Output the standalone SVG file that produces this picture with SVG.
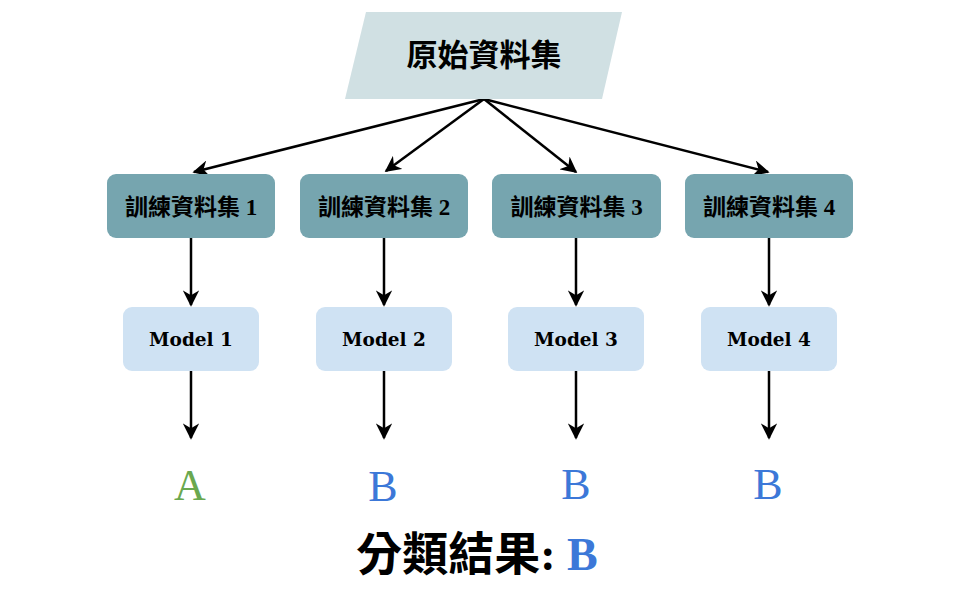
<svg xmlns="http://www.w3.org/2000/svg" width="960" height="600" viewBox="0 0 960 600">
<defs>
<style>
.src{fill:#d0e0e3}
.train{fill:#76a5af}
.model{fill:#cfe2f3}
.cjk{font-family:"Liberation Serif","Noto Sans CJK TC",serif;font-weight:bold;fill:#000;text-anchor:middle}
.mt{font-family:"DejaVu Serif","Liberation Serif",serif;font-weight:bold;font-size:18.5px;fill:#000;text-anchor:middle}
.res{font-family:"Liberation Serif",serif;font-size:44px;text-anchor:middle}
.edge{stroke:#000;stroke-width:2.5;fill:none}
</style>
<marker id="ah" viewBox="0 0 10 10" refX="9" refY="5" markerWidth="6.5" markerHeight="6.5" orient="auto" markerUnits="strokeWidth">
<path d="M0,0 L10,5 L0,10 L3,5 z" fill="#000"/>
</marker>
</defs>
<rect width="960" height="600" fill="#fff"/>
<g id="connectors">
<line class="edge" x1="484" y1="99" x2="194" y2="172" marker-end="url(#ah)"/>
<line class="edge" x1="484" y1="99" x2="386" y2="171" marker-end="url(#ah)"/>
<line class="edge" x1="484" y1="99" x2="576" y2="172" marker-end="url(#ah)"/>
<line class="edge" x1="484" y1="99" x2="768" y2="172" marker-end="url(#ah)"/>
<line class="edge" x1="191" y1="238" x2="191" y2="305" marker-end="url(#ah)"/>
<line class="edge" x1="384" y1="238" x2="384" y2="305" marker-end="url(#ah)"/>
<line class="edge" x1="576" y1="238" x2="576" y2="305" marker-end="url(#ah)"/>
<line class="edge" x1="769" y1="238" x2="769" y2="305" marker-end="url(#ah)"/>
<line class="edge" x1="191" y1="371" x2="191" y2="438" marker-end="url(#ah)"/>
<line class="edge" x1="384" y1="371" x2="384" y2="438" marker-end="url(#ah)"/>
<line class="edge" x1="576" y1="371" x2="576" y2="438" marker-end="url(#ah)"/>
<line class="edge" x1="769" y1="371" x2="769" y2="438" marker-end="url(#ah)"/>
</g>
<g id="source">
<polygon class="src" points="366,12 622,12 602,99 345,99"/>
<text class="cjk" x="484" y="66" font-size="31">原始資料集</text>
</g>
<g id="train1"><rect class="train" x="107" y="174" width="168" height="64" rx="9"/><text class="cjk" x="191" y="215" font-size="23">訓練資料集 1</text></g>
<g id="train2"><rect class="train" x="300" y="174" width="168" height="64" rx="9"/><text class="cjk" x="384" y="215" font-size="23">訓練資料集 2</text></g>
<g id="train3"><rect class="train" x="492" y="174" width="169" height="64" rx="9"/><text class="cjk" x="576.5" y="215" font-size="23">訓練資料集 3</text></g>
<g id="train4"><rect class="train" x="685" y="174" width="168" height="64" rx="9"/><text class="cjk" x="769" y="215" font-size="23">訓練資料集 4</text></g>
<g id="model1"><rect class="model" x="123" y="307" width="136" height="64" rx="9"/><text class="mt" x="191" y="346">Model 1</text></g>
<g id="model2"><rect class="model" x="316" y="307" width="136" height="64" rx="9"/><text class="mt" x="384" y="346">Model 2</text></g>
<g id="model3"><rect class="model" x="508" y="307" width="136" height="64" rx="9"/><text class="mt" x="576" y="346">Model 3</text></g>
<g id="model4"><rect class="model" x="701" y="307" width="136" height="64" rx="9"/><text class="mt" x="769" y="346">Model 4</text></g>
<g id="results">
<text class="res" x="190" y="500" fill="#6aa84f">A</text>
<text class="res" x="383" y="501" fill="#3c78d8">B</text>
<text class="res" x="576" y="499" fill="#3c78d8">B</text>
<text class="res" x="768" y="499" fill="#3c78d8">B</text>
</g>
<g id="final">
<text x="477" y="570" font-family="Liberation Serif,'Noto Sans CJK TC',serif" font-weight="bold" font-size="46" text-anchor="middle">分類結果: <tspan fill="#3c78d8">B</tspan></text>
</g>
</svg>
